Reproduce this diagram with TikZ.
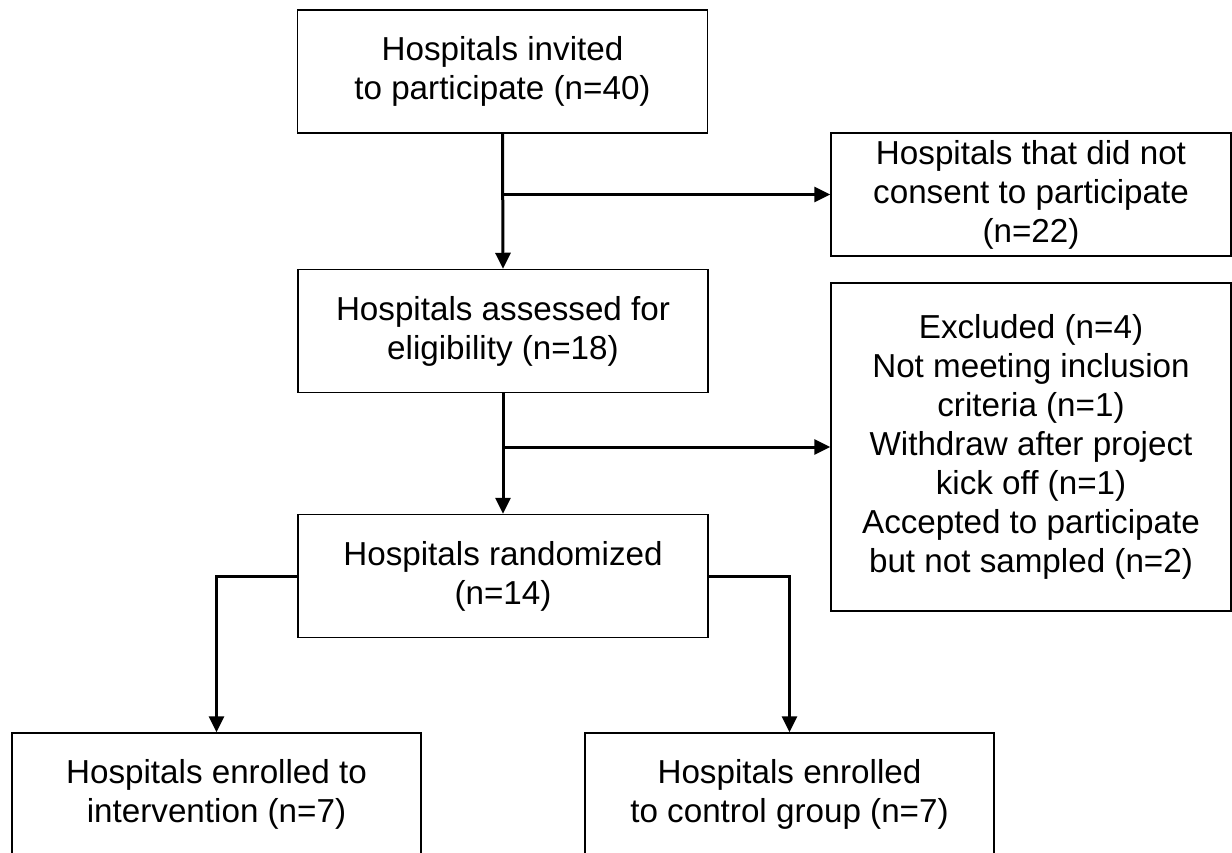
\documentclass[tikz,border=0pt]{standalone}
\usepackage{fontspec}
\setmainfont{Liberation Sans}
\usetikzlibrary{
  arrows.meta
}

\tikzset{
  flowbox/.style={
    draw=black,
    line width=0.75pt,
    align=center,
    inner sep=0pt,
    minimum width=205pt,
    minimum height=61.5pt,
    font=\fontsize{16.6}{19.5}\selectfont
  },
  sidebox/.style={
    flowbox,
    minimum width=200pt
  },
  flowarrow/.style={
    line width=1.5pt,
    -{Triangle[length=8pt,width=7.5pt]}
  }
}

\begin{document}
\begin{tikzpicture}[x=0.5pt, y=-0.5pt]
\clip (0,0) rectangle (1232,852);
% main column
\node[flowbox] (invited) at (502.5,71.5) {Hospitals invited\\to participate (n=40)};
\node[flowbox] (assessed) at (503,331) {Hospitals assessed for\\eligibility (n=18)};
\node[flowbox] (randomized) at (503,576) {Hospitals randomized\\(n=14)};
% side boxes
\node[sidebox] (noconsent) at (1031,194.5) {Hospitals that did not\\consent to participate\\(n=22)};
\node[sidebox, minimum height=164pt] (excluded) at (1031,447) {Excluded (n=4)\\Not meeting inclusion\\criteria (n=1)\\Withdraw after project\\kick off (n=1)\\Accepted to participate\\but not sampled (n=2)};
% allocation
\node[flowbox, minimum width=204.5pt] (intervention) at (216.5,794.5) {Hospitals enrolled to\\intervention (n=7)};
\node[flowbox, minimum width=204.5pt] (control) at (789.5,794.5) {Hospitals enrolled\\to control group (n=7)};

\coordinate (split1) at (invited.south |- noconsent.west);
\coordinate (split2) at (assessed.south |- excluded.west);

\draw[flowarrow] (invited.south) -- (assessed.north);
\draw[flowarrow] (split1) -- (noconsent.west);
\draw[flowarrow] (assessed.south) -- (randomized.north);
\draw[flowarrow] (split2) -- (excluded.west);
\draw[flowarrow] (randomized.west) -| (intervention.north);
\draw[flowarrow] (randomized.east) -| (control.north);
\end{tikzpicture}
\end{document}
